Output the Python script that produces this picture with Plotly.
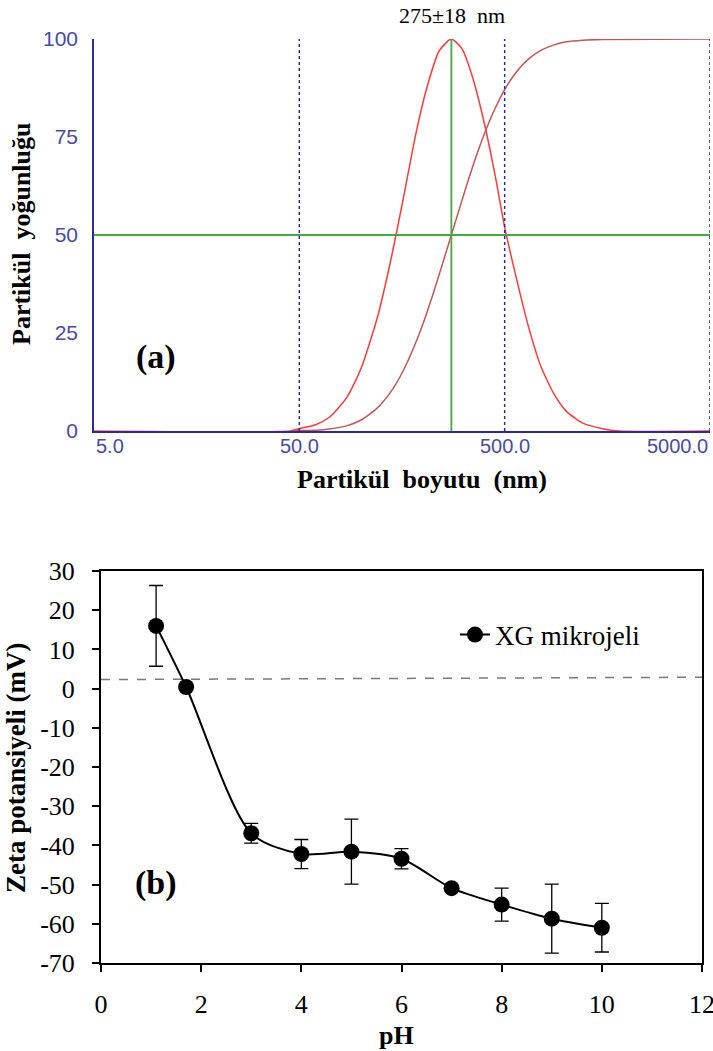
import math
import plotly.graph_objects as go

W, H = 713, 1051

# ---------------- Panel (a) data ----------------
dist_size = [5, 45, 50, 60, 70, 85, 100, 120, 140, 160, 185, 210, 240, 275, 310, 350,
             400, 450, 500, 570, 650, 750, 870, 1000, 1200, 1500, 1800, 5000]
dist_val = [0, 0, 0.6, 1.6, 3.5, 8.5, 16, 29, 44, 59, 76, 88, 97, 100, 97.5, 90,
            78, 65, 52, 39, 27, 16.5, 9.4, 5, 2, 0.6, 0, 0]
cum_size = [45, 50, 60, 70, 85, 100, 120, 140, 160, 185, 210, 240, 275, 310, 350,
            400, 450, 500, 570, 650, 750, 870, 1000, 1200, 1500, 5000]
cum_val = [0, 0.1, 0.2, 0.5, 1.3, 2.8, 5.9, 10.1, 15.3, 22.7, 30.5, 39.9, 50, 58.9, 67.6,
           76.1, 82.4, 87.1, 91.6, 94.8, 97.1, 98.5, 99.3, 99.7, 99.9, 100]
a_xticks = [5, 50, 500, 5000]
a_xticklabels = ["5.0", "50.0", "500.0", "5000.0"]
a_yticks = [0, 25, 50, 75, 100]
a_dotted = [50, 500, 5000]
a_median = 275
a_half = 50
a_title = "275±18  nm"

# ---------------- Panel (b) data ----------------
ph = [1.1, 1.7, 3.0, 4.0, 5.0, 6.0, 7.0, 8.0, 9.0, 10.0]
zeta = [16.0, 0.4, -36.9, -42.2, -41.6, -43.4, -50.9, -55.1, -58.7, -61.0]
zeta_err = [10.3, 0.5, 2.5, 3.7, 8.3, 2.6, 0.6, 4.2, 8.8, 6.2]
zero_line_x = [0, 12]
zero_line_y = [2.3, 2.9]
b_xticks = [0, 2, 4, 6, 8, 10, 12]
b_yticks = [30, 20, 10, 0, -10, -20, -30, -40, -50, -60, -70]
b_yticklabels = ["30", "20", "10", "0", "-10", "-20", "-30", "-40", "-50", "-60", "-70"]

# ---------------- geometry (pixels) ----------------
def px(x):
    return x / W

def py(y):
    return 1 - y / H

A_L, A_R, A_T, A_B = 94, 710, 39, 431
B_L, B_R, B_T, B_B = 101, 702, 571, 963

SERIF = "Liberation Serif, Times New Roman, serif"
SANS = "Liberation Sans, Arial, sans-serif"
NAVY = "#2a2a9a"
TICKBLUE = "#4a4a9e"

fig = go.Figure()

fig.add_trace(go.Scatter(x=dist_size, y=dist_val, mode="lines",
                         line=dict(color="#ff3b3b", width=1.5, shape="spline", smoothing=0.6),
                         xaxis="x", yaxis="y", showlegend=False, hoverinfo="skip"))
fig.add_trace(go.Scatter(x=cum_size, y=cum_val, mode="lines",
                         line=dict(color="#c45656", width=1.5, shape="spline", smoothing=0.6),
                         xaxis="x", yaxis="y", showlegend=False, hoverinfo="skip"))

fig.add_trace(go.Scatter(x=zero_line_x, y=zero_line_y, mode="lines",
                         line=dict(color="#7a7a7a", width=1.5, dash="dash"),
                         xaxis="x2", yaxis="y2", showlegend=False, hoverinfo="skip"))
fig.add_trace(go.Scatter(x=ph, y=zeta, mode="lines+markers", name="XG mikrojeli",
                         line=dict(color="black", width=2, shape="spline", smoothing=0.8),
                         marker=dict(color="black", size=16),
                         error_y=dict(type="data", array=zeta_err, visible=True,
                                      color="black", thickness=1.3, width=7),
                         xaxis="x2", yaxis="y2", showlegend=True))

shapes = []
for v in a_dotted:
    shapes.append(dict(type="line", xref="x", yref="y", x0=v, x1=v, y0=0, y1=100,
                       line=dict(color=NAVY, width=1.5, dash="dot")))
shapes.append(dict(type="line", xref="x", yref="y", x0=a_median, x1=a_median, y0=0, y1=100,
                   line=dict(color="#45a845", width=1.8)))
shapes.append(dict(type="line", xref="x", yref="y", x0=5, x1=5000, y0=a_half, y1=a_half,
                   line=dict(color="#45a845", width=1.8)))

annotations = []
for i, (v, t) in enumerate(zip(a_xticks, a_xticklabels)):
    anchor = "left" if i == 0 else ("right" if i == len(a_xticks) - 1 else "center")
    annotations.append(dict(x=math.log10(v), y=py(446), xref="x", yref="paper", text=t,
                            showarrow=False, xanchor=anchor, yanchor="middle",
                            font=dict(family=SANS, size=20, color=TICKBLUE)))


def label(x, y, text, size, angle=0, family=SERIF):
    return dict(x=px(x), y=py(y), xref="paper", yref="paper", text=text,
                showarrow=False, xanchor="center", yanchor="middle", textangle=angle,
                font=dict(family=family, size=size, color="black"))


annotations += [
    label(452, 16, a_title, 22),
    label(422, 479, "<b>Partikül  boyutu  (nm)</b>", 26),
    label(22, 234, "<b>Partikül  yoğunluğu</b>", 26, -90),
    label(156, 357, "<b>(a)</b>", 34),
    label(156, 883, "<b>(b)</b>", 34),
    label(396, 1035, "<b>pH</b>", 26),
    label(16, 768, "<b>Zeta potansiyeli (mV)</b>", 27, -90),
]

fig.update_layout(
    width=W, height=H,
    margin=dict(l=0, r=0, t=0, b=0, autoexpand=False),
    paper_bgcolor="white", plot_bgcolor="white",
    shapes=shapes, annotations=annotations,
    xaxis=dict(domain=[px(A_L), px(A_R)], type="log",
               range=[math.log10(5), math.log10(5000)],
               showgrid=False, zeroline=False, showline=True, linecolor=NAVY, linewidth=1.5,
               showticklabels=False, ticks="", anchor="y"),
    yaxis=dict(domain=[py(A_B), py(A_T)], range=[0, 100], tickvals=a_yticks,
               showgrid=False, zeroline=False, showline=True, linecolor=NAVY, linewidth=1.5,
               ticks="", ticklabelstandoff=10,
               tickfont=dict(family=SANS, size=21, color=TICKBLUE), anchor="x"),
    xaxis2=dict(domain=[px(B_L), px(B_R)], range=[0, 12], tickvals=b_xticks,
                showgrid=False, zeroline=False, showline=True, mirror=True,
                linecolor="black", linewidth=2, ticks="outside", ticklen=7, tickwidth=2,
                tickcolor="black", ticklabelstandoff=10, ticklabeloverflow="allow",
                tickfont=dict(family=SERIF, size=26, color="black"),
                anchor="y2"),
    yaxis2=dict(domain=[py(B_B), py(B_T)], range=[-70, 30], tickvals=b_yticks,
                ticktext=b_yticklabels,
                showgrid=False, zeroline=False, showline=True, mirror=True,
                linecolor="black", linewidth=2, ticks="outside", ticklen=7, tickwidth=2,
                tickcolor="black", ticklabelstandoff=12,
                tickfont=dict(family=SERIF, size=26, color="black"),
                anchor="x2"),
    legend=dict(x=px(455), y=py(635), xanchor="left", yanchor="middle",
                bgcolor="rgba(0,0,0,0)", font=dict(family=SERIF, size=27, color="black")),
)

fig.write_html("out.html",
               post_script="document.body.style.margin='0';document.body.style.overflow='hidden';")
